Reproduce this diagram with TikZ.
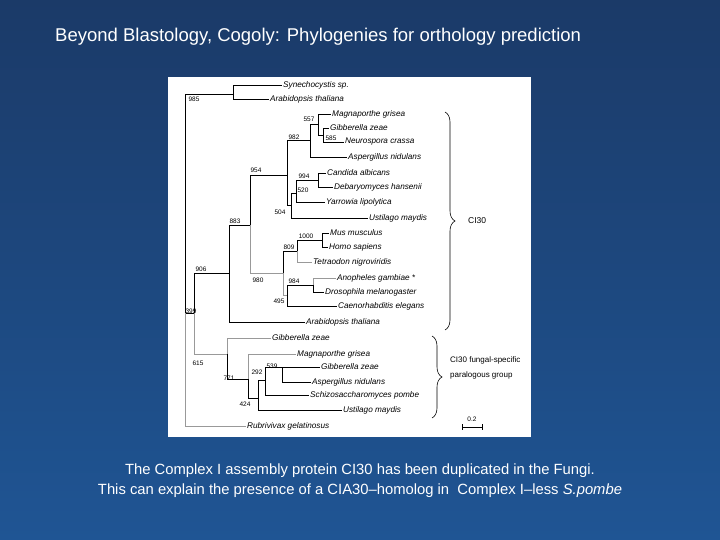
\documentclass[tikz,border=0pt]{standalone}
\usepackage{fontspec}
\setmainfont{Liberation Sans}
\usetikzlibrary{decorations.pathreplacing}
\definecolor{slidetop}{HTML}{1B3A68}
\definecolor{slidemid}{HTML}{2C6EBB}
\definecolor{slidebot}{HTML}{1F5594}
\definecolor{branchgray}{gray}{0.6}
\begin{document}
\begin{tikzpicture}[x=1pt,y=-1pt,
  leaf/.style={anchor=west,inner sep=1pt,font=\fontsize{8.2}{9}\selectfont\itshape},
  boot/.style={inner sep=0pt,font=\fontsize{6.5}{7}\selectfont},
  br/.style={line width=0.6pt},
  gbr/.style={line width=0.6pt,draw=branchgray},
  curly/.style={decorate,decoration={brace,amplitude=10pt},line width=0.6pt}]
\shade[top color=slidetop,middle color=slidemid,bottom color=slidebot] (0,0) rectangle (720,540);
\useasboundingbox (0,0) rectangle (720,540);
\node[anchor=west,inner sep=0pt,text=white,font=\fontsize{18.5}{21}\selectfont] (title) at (55,37) {Beyond Blastology, Cogoly: Phylogenies for orthology prediction};
\fill[white] (168,77) rectangle (531,437);
\node[leaf] (syn) at (282,85) {Synechocystis sp.};
\node[leaf] (arab1) at (269,99) {Arabidopsis thaliana};
\node[leaf] (mag1) at (331,114) {Magnaporthe grisea};
\node[leaf] (gib1) at (329,128) {Gibberella zeae};
\node[leaf] (neu) at (344,142) {Neurospora crassa};
\node[leaf] (asp1) at (347,157) {Aspergillus nidulans};
\node[leaf] (can) at (326,173) {Candida albicans};
\node[leaf] (deb) at (333,187) {Debaryomyces hansenii};
\node[leaf] (yar) at (325,202) {Yarrowia lipolytica};
\node[leaf] (ust1) at (368,218) {Ustilago maydis};
\node[leaf] (mus) at (329,233) {Mus musculus};
\node[leaf] (hom) at (328,247) {Homo sapiens};
\node[leaf] (tet) at (312,262) {Tetraodon nigroviridis};
\node[leaf] (ano) at (336,278) {Anopheles gambiae *};
\node[leaf] (dro) at (324,292) {Drosophila melanogaster};
\node[leaf] (cae) at (337,306) {Caenorhabditis elegans};
\node[leaf] (arab2) at (305,322) {Arabidopsis thaliana};
\node[leaf] (gib2) at (271,338) {Gibberella zeae};
\node[leaf] (mag2) at (296,354) {Magnaporthe grisea};
\node[leaf] (gib3) at (320,367) {Gibberella zeae};
\node[leaf] (asp2) at (311,382) {Aspergillus nidulans};
\node[leaf] (sch) at (309,395) {Schizosaccharomyces pombe};
\node[leaf] (ust2) at (342,410) {Ustilago maydis};
\node[leaf] (rub) at (246,426) {Rubrivivax gelatinosus};
\coordinate (root) at (185,313);
\coordinate (n985) at (233,94);
\coordinate (n399) at (194,313);
\coordinate (n906) at (229,273);
\coordinate (n883) at (250,225);
\coordinate (n954) at (287,175);
\coordinate (n982) at (310,140);
\coordinate (n557) at (318,124);
\coordinate (n585) at (323,135);
\coordinate (n504) at (291,205);
\coordinate (n520) at (296,193);
\coordinate (n994) at (318,180);
\coordinate (n980) at (283,273);
\coordinate (n809) at (297,251);
\coordinate (n1000) at (322,240);
\coordinate (n495) at (287,295);
\coordinate (n984) at (313,285);
\coordinate (n615) at (227,354);
\coordinate (n771) at (248,379);
\coordinate (n424) at (258,398);
\coordinate (n292) at (265,380);
\coordinate (n539) at (282,367);
\draw[br] (root) |- (n985);
\draw[br] (root) |- (n399);
\draw[gbr] (root) |- (rub.west);
\draw[br] (n985) |- (syn.west);
\draw[br] (n985) |- (arab1.west);
\draw[br] (n399) |- (n906);
\draw[gbr] (n399) |- (n615);
\draw[br] (n906) |- (n883);
\draw[br] (n906) |- (arab2.west);
\draw[br] (n883) |- (n954);
\draw[gbr] (n883) |- (n980);
\draw[br] (n954) |- (n982);
\draw[br] (n954) |- (n504);
\draw[br] (n982) |- (n557);
\draw[br] (n982) |- (asp1.west);
\draw[br] (n557) |- (mag1.west);
\draw[br] (n557) |- (n585);
\draw[br] (n585) |- (gib1.west);
\draw[br] (n585) |- (neu.west);
\draw[br] (n504) |- (n520);
\draw[br] (n504) |- (ust1.west);
\draw[br] (n520) |- (n994);
\draw[br] (n520) |- (yar.west);
\draw[br] (n994) |- (can.west);
\draw[br] (n994) |- (deb.west);
\draw[br] (n980) |- (n809);
\draw[gbr] (n980) |- (n495);
\draw[br] (n809) |- (n1000);
\draw[gbr] (n809) |- (tet.west);
\draw[br] (n1000) |- (mus.west);
\draw[br] (n1000) |- (hom.west);
\draw[br] (n495) |- (n984);
\draw[br] (n495) |- (cae.west);
\draw[gbr] (n984) |- (ano.west);
\draw[br] (n984) |- (dro.west);
\draw[gbr] (n615) |- (gib2.west);
\draw[br] (n615) |- (n771);
\draw[gbr] (n771) |- (mag2.west);
\draw[br] (n771) |- (n424);
\draw[br] (n424) |- (n292);
\draw[br] (n424) |- (ust2.west);
\draw[br] (n292) |- (n539);
\draw[br] (n292) |- (sch.west);
\draw[br] (n539) |- (gib3.west);
\draw[br] (n539) |- (asp2.west);
\node[boot] (b985) at (194,99) {985};
\node[boot] (b557) at (309,119) {557};
\node[boot] (b982) at (294,137) {982};
\node[boot] (b585) at (331,138) {585};
\node[boot] (b954) at (256,170) {954};
\node[boot] (b994) at (304,176) {994};
\node[boot] (b520) at (303,190) {520};
\node[boot] (b504) at (280,212) {504};
\node[boot] (b883) at (235,221) {883};
\node[boot] (b1000) at (306,236) {1000};
\node[boot] (b809) at (289,247) {809};
\node[boot] (b906) at (201,269) {906};
\node[boot] (b980) at (258,280) {980};
\node[boot] (b984) at (294,281) {984};
\node[boot] (b495) at (279,301) {495};
\node[boot] (b399) at (191,311) {399};
\node[boot] (b615) at (198,363) {615};
\node[boot] (b771) at (229,378) {771};
\node[boot] (b539) at (272,366) {539};
\node[boot] (b292) at (257,372) {292};
\node[boot] (b424) at (245,404) {424};
\coordinate (ci30top) at (445,112);
\coordinate (ci30bot) at (445,330);
\coordinate (fungtop) at (432,336);
\coordinate (fungbot) at (432,418);
\draw[curly] (ci30top) -- (ci30bot);
\draw[curly] (fungtop) -- (fungbot);
\node[anchor=west,inner sep=0pt,font=\fontsize{8.5}{10}\selectfont] (ci30) at (468,221) {CI30};
\node[anchor=west,align=left,inner sep=0pt,font=\fontsize{8}{15}\selectfont] (fung) at (450,368) {CI30 fungal-specific\\paralogous group};
\coordinate (sb1) at (462,427);
\coordinate (sb2) at (482,427);
\draw[|-|,line width=0.5pt] (sb1) -- (sb2);
\node[inner sep=0pt,font=\fontsize{6.5}{7}\selectfont] (sbl) at (472,419) {0.2};
\node[text=white,font=\fontsize{14.8}{16}\selectfont] (cap1) at (360,471) {The Complex I assembly protein CI30 has been duplicated in the Fungi.};
\node[text=white,font=\fontsize{14.8}{16}\selectfont] (cap2) at (360,491) {This can explain the presence of a CIA30–homolog in\ \ Complex I–less \textit{S.pombe}};
\end{tikzpicture}
\end{document}
